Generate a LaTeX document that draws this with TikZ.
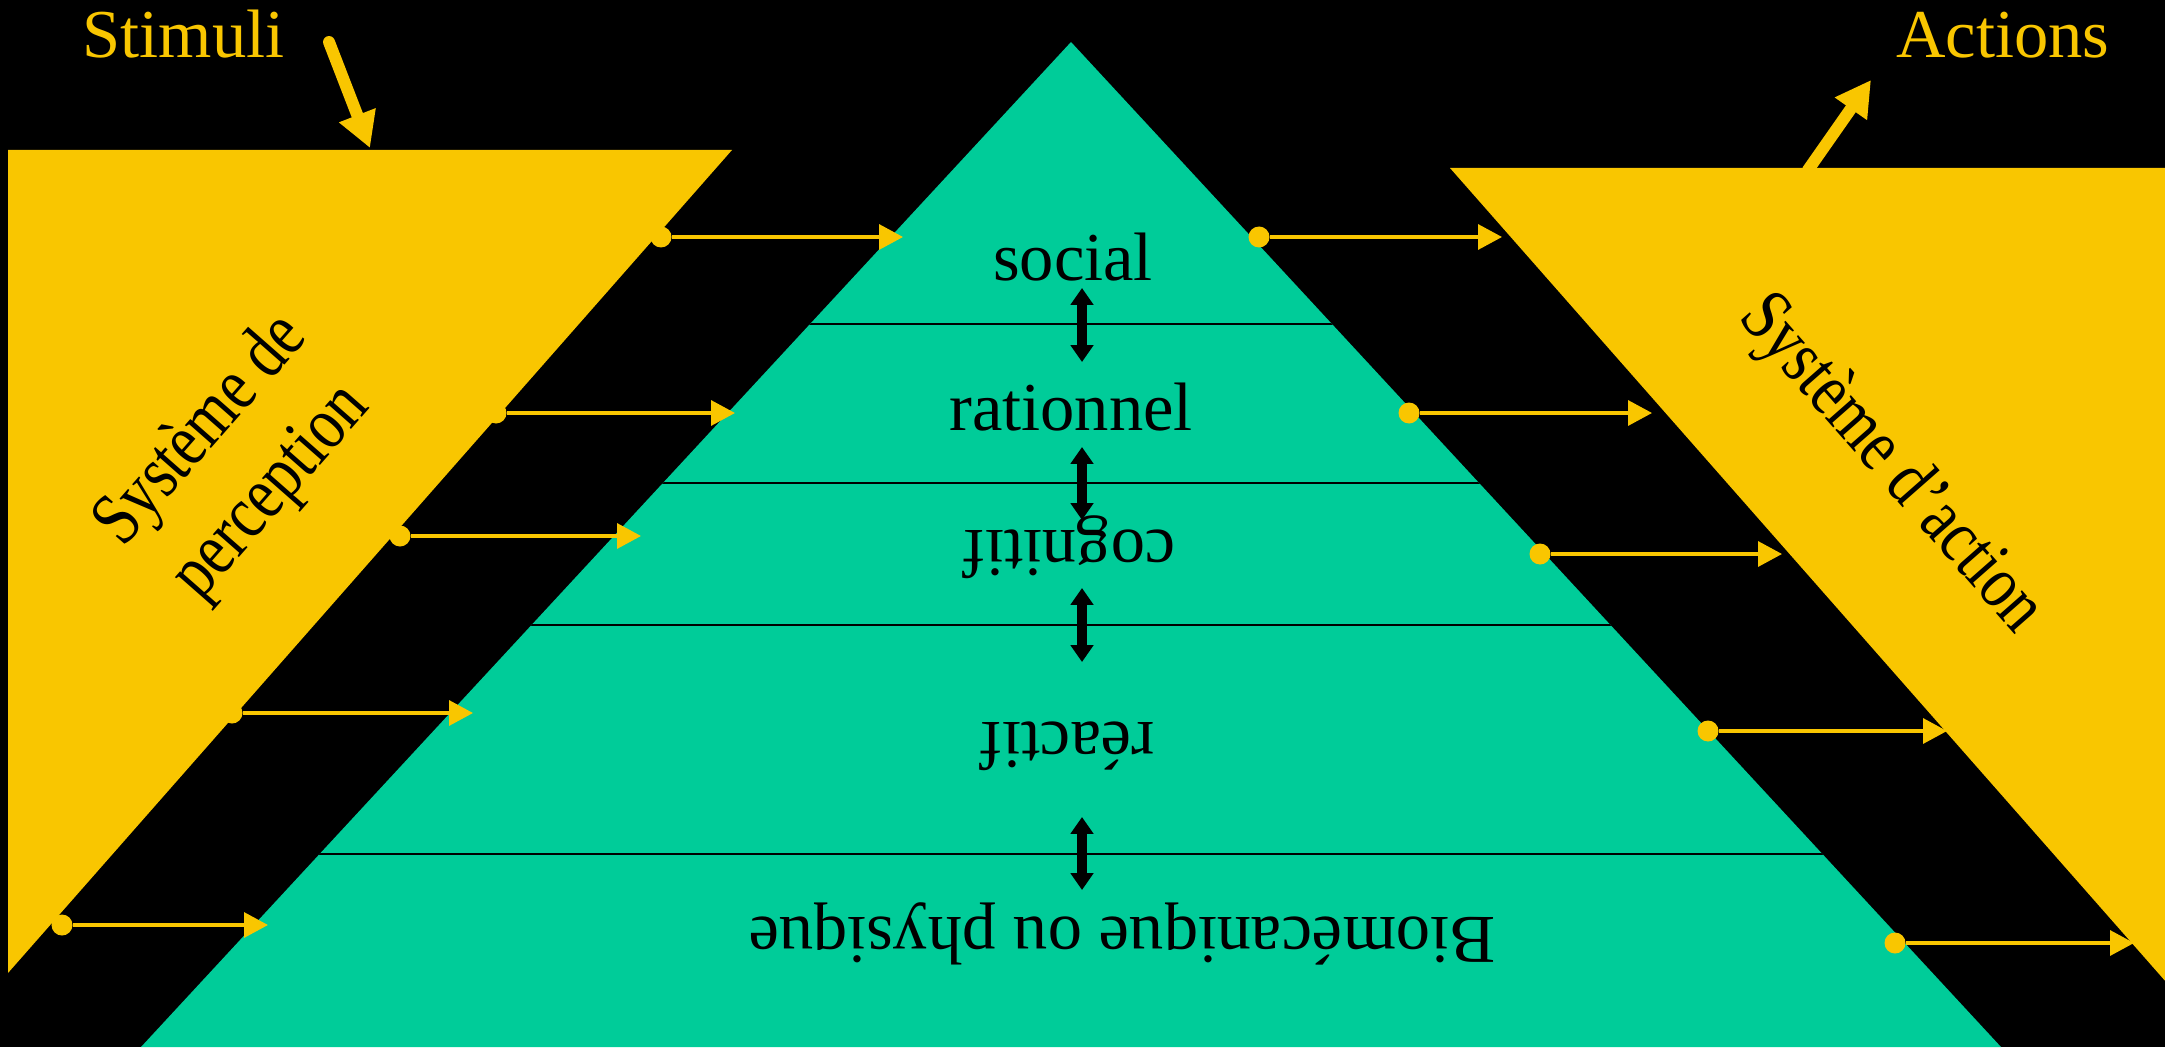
\documentclass[tikz,border=0pt]{standalone}
\usepackage{fontspec}
\setmainfont{Liberation Serif}
\usetikzlibrary{arrows.meta}

\definecolor{gold}{RGB}{249,198,0}
\definecolor{jade}{RGB}{0,204,153}

\tikzset{
  layer/.style={font=\fontsize{19.5}{26}\selectfont, inner sep=0pt, anchor=base},
  flip/.style={layer, rotate=180},
  side/.style={layer, anchor=center, align=center, font=\fontsize{19.5}{24}\selectfont},
  dot/.style={circle, fill=gold, inner sep=0pt, minimum size=0.21cm},
  feed/.style={gold, line width=0.9pt, -{Triangle[length=6.8pt,width=7.1pt]}},
  link/.style={line width=3.1pt, {Triangle[length=4.8pt,width=6.3pt]}-{Triangle[length=4.8pt,width=6.3pt]}},
  io/.style={gold, line width=3.4pt, line cap=round, -{Triangle[length=10pt,width=10.5pt]}}
}

\begin{document}
\begin{tikzpicture}
  \useasboundingbox (0,0) rectangle (21.65,10.47);
  \clip (0,0) rectangle (21.65,10.47);
  \fill[black] (0,0) rectangle (21.65,10.47);

  % perception and action funnels
  \fill[gold] (0.08,8.97) -- (7.32,8.97) -- (0.08,0.74) -- cycle;
  \fill[gold] (14.50,8.79) -- (21.74,8.79) -- (21.74,0.56) -- cycle;

  % the pyramid and its levels
  \fill[jade] (1.41,0) -- (10.71,10.05) -- (20.01,0) -- cycle;
  \begin{scope}
    \clip (1.41,0) -- (10.71,10.05) -- (20.01,0) -- cycle;
    \draw[line width=0.8pt] (0,7.23) -- (21.65,7.23);
    \draw[line width=0.8pt] (0,5.64) -- (21.65,5.64);
    \draw[line width=0.8pt] (0,4.22) -- (21.65,4.22);
    \draw[line width=0.8pt] (0,1.93) -- (21.65,1.93);
  \end{scope}

  \node[layer] (soc) at (10.73,7.66) {social};
  \node[layer] (rat) at (10.71,6.17) {rationnel};
  \node[flip] (cog) at (10.69,5.17) {cognitif};
  \node[flip] (rea) at (10.67,3.25) {réactif};
  \node[flip] (bio) at (11.22,1.30) {Biomécanique ou physique};

  % exchanges between levels
  \coordinate (u1) at (10.82,7.59); \coordinate (d1) at (10.82,6.85);
  \coordinate (u2) at (10.82,6.00); \coordinate (d2) at (10.82,5.27);
  \coordinate (u3) at (10.82,4.59); \coordinate (d3) at (10.82,3.85);
  \coordinate (u4) at (10.82,2.30); \coordinate (d4) at (10.82,1.57);
  \draw[link] (u1) -- (d1);
  \draw[link] (u2) -- (d2);
  \draw[link] (u3) -- (d3);
  \draw[link] (u4) -- (d4);

  \node[side, rotate=48.7, xscale=0.89, yscale=1.1] (per) at (2.37,5.85) {Système de\\perception};
  \node[side, rotate=-48.7, xscale=0.89, yscale=1.1] (act) at (18.90,5.82) {Système d’action};

  % inputs and outputs
  \node[layer, text=gold] (stim) at (1.835,9.89) {Stimuli};
  \node[layer, text=gold] (acts) at (20.03,9.89) {Actions};
  \coordinate (st0) at (3.29,10.05); \coordinate (st1) at (3.70,8.99);
  \draw[io] (st0) -- (st1);
  \coordinate (ac0) at (18.08,8.77); \coordinate (ac1) at (18.71,9.67);
  \draw[io] (ac0) -- (ac1);

  % perception feeds the levels
  \node[dot] (s1) at (6.61,8.10) {}; \coordinate (p1) at (9.03,8.10);
  \node[dot] (s2) at (4.96,6.34) {}; \coordinate (p2) at (7.35,6.34);
  \node[dot] (s3) at (4.00,5.11) {}; \coordinate (p3) at (6.41,5.11);
  \node[dot] (s4) at (2.32,3.34) {}; \coordinate (p4) at (4.73,3.34);
  \node[dot] (s5) at (0.62,1.22) {}; \coordinate (p5) at (2.68,1.22);
  \draw[feed] (s1) -- (p1);
  \draw[feed] (s2) -- (p2);
  \draw[feed] (s3) -- (p3);
  \draw[feed] (s4) -- (p4);
  \draw[feed] (s5) -- (p5);

  % levels drive the action system
  \node[dot] (m1) at (12.59,8.10) {}; \coordinate (a1) at (15.02,8.10);
  \node[dot] (m2) at (14.09,6.34) {}; \coordinate (a2) at (16.52,6.34);
  \node[dot] (m3) at (15.40,4.93) {}; \coordinate (a3) at (17.82,4.93);
  \node[dot] (m4) at (17.08,3.16) {}; \coordinate (a4) at (19.47,3.16);
  \node[dot] (m5) at (18.95,1.04) {}; \coordinate (a5) at (21.34,1.04);
  \draw[feed] (m1) -- (a1);
  \draw[feed] (m2) -- (a2);
  \draw[feed] (m3) -- (a3);
  \draw[feed] (m4) -- (a4);
  \draw[feed] (m5) -- (a5);
\end{tikzpicture}
\end{document}
